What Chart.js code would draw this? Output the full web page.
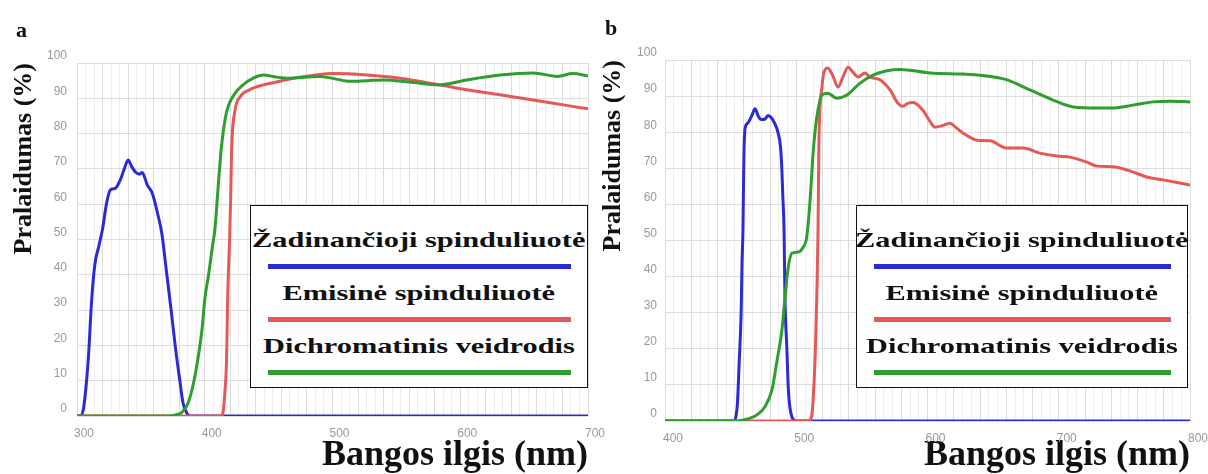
<!DOCTYPE html>
<html>
<head>
<meta charset="utf-8">
<script src="https://cdn.jsdelivr.net/npm/chart.js@4.4.0/dist/chart.umd.min.js"></script>
<style>
  html, body { margin: 0; padding: 0; background: #fff; }
  #page { position: relative; width: 1208px; height: 474px; overflow: hidden; }
  .panel { position: absolute; top: 0; height: 474px; }
  .letter { position: absolute; font: bold 22px "Liberation Serif", "Times New Roman", serif; line-height: 22px; color: #111; }
  .legend { position: absolute; box-sizing: border-box; border: 1.5px solid #111; background: #fff; padding-top: 21px; }
  .legend .txt { height: 26px; line-height: 26px; text-align: center; white-space: nowrap; }
  .legend .txt span { display: inline-block; font: bold 22px "Liberation Serif", "Times New Roman", serif; transform: scaleX(1.38); color: #111; }
  .legend .ln { height: 5px; margin: 11px 16px 11px 17px; }
</style>
</head>
<body>
<div id="page">
  <div class="panel" style="left:0;width:612px"><canvas id="chart-a"></canvas></div>
  <div class="panel" style="left:600px;width:608px"><canvas id="chart-b"></canvas></div>
  <div class="letter" style="left:16px;top:19px">a</div>
  <div class="letter" style="left:605px;top:17px">b</div>
  <div class="legend" id="legend-a" style="left:250px;top:205px;width:338px;height:183px"></div>
  <div class="legend" id="legend-b" style="left:856px;top:205px;width:332px;height:183px"></div>
</div>
<script>
const SERIF = '"Liberation Serif", "Times New Roman", serif';
const SANS = '"Liberation Sans", Arial, sans-serif';

const SERIES_LABELS = ["Žadinančioji spinduliuotė", "Emisinė spinduliuotė", "Dichromatinis veidrodis"];
const SERIES_COLORS = ["#2b2bd6", "#e65858", "#2f9e2f"];
const Y_TITLE = "Pralaidumas (%)";
const X_TITLE = "Bangos ilgis (nm)";

/* ===== DATA: panel a ===== */

const aXLabels = [300, 400, 500, 600, 700];

const aExcNm  = [300, 303, 305, 307, 309, 311.5, 314, 317, 320, 323, 326, 330, 334, 337, 340, 343, 346, 349, 351, 355, 359, 363, 366.5, 370, 374, 377, 380.5, 383, 386, 389, 700];
const aExcVal = [0, 0, 2, 8, 17, 33, 43, 48, 53, 60, 64, 64.5, 67, 70, 72.5, 70.5, 69, 68.5, 69, 65.5, 63, 57.5, 51.5, 41, 29, 19.5, 10, 3.7, 0.8, 0, 0];

const aEmNm  = [300, 412, 414, 416, 417, 418, 419.6, 420.3, 421, 423.7, 427.6, 435, 446, 456, 469, 485, 500, 527, 553, 584, 605, 631, 657, 683, 700];
const aEmVal = [0, 0, 0.5, 8, 15, 34, 52, 62, 75, 86.5, 90.4, 92.4, 93.8, 94.6, 95.7, 96.5, 97, 96.6, 95.7, 93.8, 92.4, 91, 89.5, 88, 87];

const aDmNm  = [300, 372, 377, 382, 387, 391, 395, 398, 400, 403, 406, 408, 410.5, 413, 417, 422, 430, 438, 446, 456, 467, 480, 490, 502, 514, 527, 540, 560, 584, 605, 631, 657, 676, 688, 700];
const aDmVal = [0, 0, 0.3, 1, 3.7, 9, 17, 25, 33, 40, 48, 53, 65, 76, 86, 90.5, 93.8, 95.7, 96.6, 96, 95.7, 96, 96.2, 95.5, 94.8, 95, 95.2, 94.6, 93.8, 95.2, 96.6, 97.2, 96.2, 97, 96.3];

/* ===== DATA: panel b ===== */

const bXLabels = [400, 500, 600, 700, 800];

const bExcNm  = [400, 452, 455, 456.5, 458, 458.7, 459.4, 459.8, 460.2, 461, 463, 466, 468.6, 471, 473, 476, 478.5, 481, 483.5, 486, 488, 489, 489.8, 490.7, 491.4, 492.8, 494, 496.8, 500, 800];
const bExcVal = [0, 0, 3.9, 16, 30, 44, 53, 65, 75, 81, 82.5, 84.5, 86.5, 84.5, 83.5, 83.6, 84.6, 84, 82.5, 80, 76, 70, 62, 53, 34, 20.5, 8.6, 1, 0, 0];

const bEmNm  = [400, 509, 511.5, 513, 515, 516.6, 517.3, 519.6, 521, 524, 528, 531.8, 535.6, 539.4, 543, 547, 552.4, 556, 563.8, 571.4, 577.5, 581, 585, 589, 596.6, 601, 605.7, 611, 617, 622, 627, 637.7, 647.6, 660.6, 672.8, 685.7, 698.7, 708.6, 721.5, 729, 741, 754, 767, 779.4, 800];
const bEmVal = [0, 0, 1, 6.6, 25, 53, 78, 92.5, 96.5, 97.8, 95.5, 92.5, 95.3, 98, 96.7, 95.3, 96.4, 95.3, 94.5, 91.7, 88, 87.2, 88, 88.2, 86, 83.5, 81.4, 81.8, 82.5, 81.2, 79.8, 77.8, 77.6, 75.6, 75.6, 74.2, 73.4, 73.1, 71.7, 70.6, 70.4, 69.3, 67.6, 66.8, 65.4];

const bDmNm  = [400, 455, 460, 465, 470, 476, 481.5, 485, 489, 491.4, 493.6, 496.7, 501.5, 505, 508, 510.5, 513, 515.6, 519.6, 524, 531, 538.6, 548.6, 558.5, 569, 579, 602, 627, 640, 660.6, 678, 695.6, 711, 729, 741, 756.6, 771.8, 784.8, 800];
const bDmVal = [0, 0, 0.3, 0.8, 1.7, 3.9, 8.6, 16, 25, 34, 41.8, 46.5, 46.8, 48, 51, 61, 75, 84, 90.3, 90.8, 89.4, 90.3, 93.6, 95.8, 97, 97.4, 96.4, 96.1, 95.8, 94.5, 91.7, 88.9, 87, 86.7, 86.7, 87.5, 88.4, 88.6, 88.4];

/* ===== HELPERS ===== */

const GRID_STEP = 20 / 3;

function toPoints(nm, val) {
  return nm.map((x, i) => ({ x, y: val[i] }));
}

function near(v, list) {
  return list.some(l => Math.abs(l - v) < 0.01);
}

function isMultiple(v, step) {
  const r = v / step;
  return Math.abs(r - Math.round(r)) < 1e-6;
}

function buildLegend(chart, el) {
  el.innerHTML = chart.data.datasets.map(ds =>
    `<div class="txt"><span>${ds.label}</span></div>` +
    `<div class="ln" style="background:${ds.borderColor}"></div>`
  ).join("");
}

function createChart(id, p) {
  const series = [p.exc, p.em, p.dm];
  const datasets = series.map((pts, i) => ({
    label: SERIES_LABELS[i],
    data: pts,
    borderColor: SERIES_COLORS[i],
    borderWidth: 3,
    pointRadius: 0,
    cubicInterpolationMode: "monotone",
    fill: false,
    order: 3 - i
  }));

  return new Chart(document.getElementById(id), {
    type: "line",
    data: { datasets },
    options: {
      responsive: true,
      maintainAspectRatio: false,
      animation: false,
      events: [],
      layout: { padding: { top: p.top, right: p.right, left: 0, bottom: 0 } },
      plugins: { legend: { display: false }, tooltip: { enabled: false } },
      scales: {
        x: {
          type: "linear",
          min: p.xMin,
          max: p.xMax,
          afterBuildTicks: axis => {
            const n = Math.round((p.xMax - p.xMin) / GRID_STEP);
            axis.ticks = [...Array(n + 1)].map((_, i) => ({ value: p.xMin + i * GRID_STEP }));
          },
          afterFit: s => { s.height = p.xHeight; s.paddingLeft = 0; s.paddingRight = 0; },
          ticks: {
            autoSkip: false,
            maxRotation: 0,
            padding: 10,
            labelOffset: p.xLabelOffset,
            color: "#9a9a9a",
            font: { family: SANS, size: 12 },
            callback: v => near(v, p.xLabels) ? String(Math.round(v)) : ""
          },
          grid: {
            drawTicks: false,
            color: c => isMultiple(c.tick.value - p.xMin, 20) ? "#dcdcdc" : "#efefef"
          },
          border: { display: false },
          title: {
            display: true,
            text: X_TITLE,
            align: "end",
            color: "#111",
            font: { family: SERIF, size: 36, weight: "bold", lineHeight: 1 },
            padding: { top: 0, bottom: 0 }
          }
        },
        y: {
          min: 0,
          max: 100,
          afterFit: s => { s.width = p.yWidth; s.paddingTop = 0; s.paddingBottom = 0; },
          ticks: {
            stepSize: 10,
            padding: p.yTickPad,
            labelOffset: -7,
            color: "#9a9a9a",
            font: { family: SANS, size: 12 }
          },
          grid: { drawTicks: false, color: "#dedede" },
          border: { display: false },
          title: {
            display: true,
            text: Y_TITLE,
            align: "end",
            color: "#111",
            font: { family: SERIF, size: 26, weight: "bold", lineHeight: 1 },
            padding: { top: p.yTitlePad, bottom: 0 }
          }
        }
      }
    }
  });
}

/* ===== INIT ===== */

const chartA = createChart("chart-a", {
  exc: toPoints(aExcNm, aExcVal),
  em: toPoints(aEmNm, aEmVal),
  dm: toPoints(aDmNm, aDmVal),
  xMin: 300, xMax: 700, xLabels: aXLabels,
  top: 63, right: 24, yWidth: 77, xHeight: 58,
  xLabelOffset: 7, yTickPad: 10, yTitlePad: 11
});

const chartB = createChart("chart-b", {
  exc: toPoints(bExcNm, bExcVal),
  em: toPoints(bEmNm, bEmVal),
  dm: toPoints(bDmNm, bDmVal),
  xMin: 400, xMax: 800, xLabels: bXLabels,
  top: 60, right: 18, yWidth: 65, xHeight: 53,
  xLabelOffset: 8, yTickPad: 8, yTitlePad: 0
});

buildLegend(chartA, document.getElementById("legend-a"));
buildLegend(chartB, document.getElementById("legend-b"));
</script>
</body>
</html>
